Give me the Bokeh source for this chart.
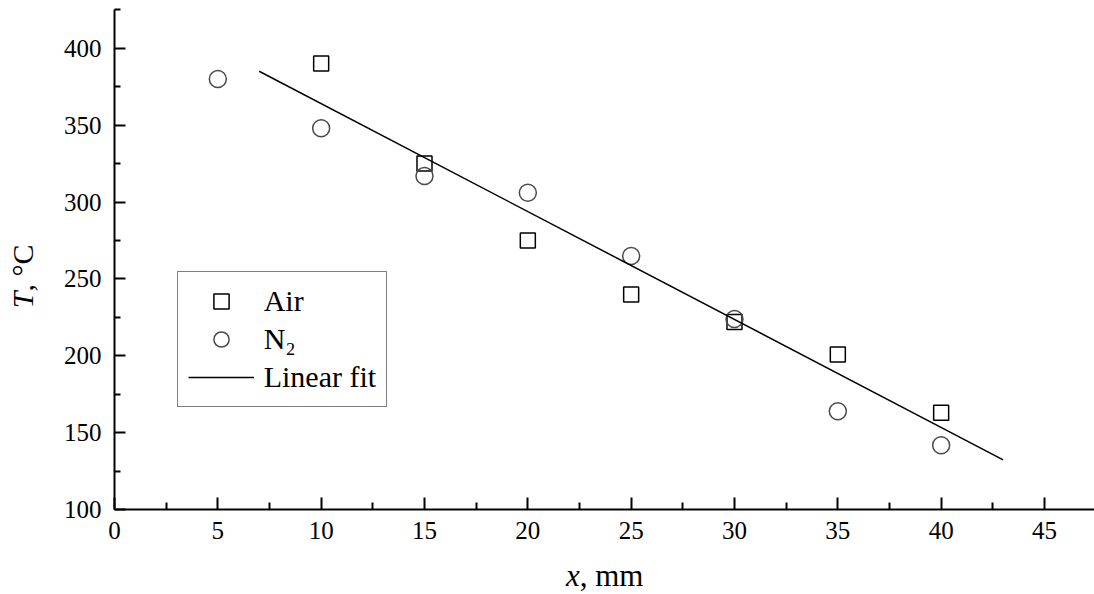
import math
from bokeh.plotting import figure
from bokeh.models import Range1d, FixedTicker, Label
from bokeh.embed import file_html
from bokeh.resources import INLINE

# ---- data ----
x_air = [10, 15, 20, 25, 30, 35, 40]
t_air = [390, 325, 275, 240, 222, 201, 163]
x_n2 = [5, 10, 15, 20, 25, 30, 35, 40]
t_n2 = [380, 348, 317, 306, 265, 224, 164, 142]
fit_x = [7, 43]
fit_t = [385, 132.5]

x_major = [0, 5, 10, 15, 20, 25, 30, 35, 40, 45]
x_minor = [2.5, 7.5, 12.5, 17.5, 22.5, 27.5, 32.5, 37.5, 42.5, 47.5]
y_major = [100, 150, 200, 250, 300, 350, 400]
y_minor = [125, 175, 225, 275, 325, 375, 425]

FONT = "Liberation Serif"

# frame covers the whole canvas; axes are drawn at fixed data locations
p = figure(width=1094, height=594, output_backend="svg", toolbar_location=None,
           x_range=Range1d(-5.516, 47.42), y_range=Range1d(44.95, 431.0),
           min_border=0)
p.outline_line_color = None
p.grid.visible = False
p.background_fill_color = "white"
p.border_fill_color = "white"

p.xaxis[0].fixed_location = 100
p.xaxis[0].bounds = (0, 47.5)
p.yaxis[0].fixed_location = 0
p.yaxis[0].bounds = (100, 425)

for ax, maj, mnr, tin, tmin in ((p.xaxis[0], x_major, x_minor, 12, 7), (p.yaxis[0], y_major, y_minor, 11, 6)):
    ax.ticker = FixedTicker(ticks=maj, minor_ticks=mnr)
    ax.axis_line_width = 2
    ax.axis_line_color = "black"
    ax.major_tick_in = tin
    ax.major_tick_out = 0
    ax.minor_tick_in = tmin
    ax.minor_tick_out = 0
    ax.major_tick_line_width = 2
    ax.minor_tick_line_width = 2
    ax.major_tick_line_color = "black"
    ax.minor_tick_line_color = "black"
    ax.major_label_text_font = FONT
    ax.major_label_text_font_size = "25px"
    ax.major_label_text_color = "black"
p.xaxis[0].major_label_standoff = 12
p.yaxis[0].major_label_standoff = 13

p.scatter(x_air, t_air, marker="square", size=15, fill_color=None,
          line_color="black", line_width=1.5, legend_label="Air")
p.scatter(x_n2, t_n2, marker="circle", size=17, fill_color=None,
          line_color="#4a4a4a", line_width=1.5, legend_label="N₂")
p.line(fit_x, fit_t, line_color="black", line_width=1.5, legend_label="Linear fit")

lg = p.legend[0]
lg.location = (176.7, 187.3)
lg.padding = 10
lg.spacing = 0
lg.margin = 0
lg.glyph_width = 66
lg.glyph_height = 38
lg.label_height = 38
lg.label_standoff = 10
lg.label_text_font = FONT
lg.label_text_font_size = "30px"
lg.label_text_color = "black"
lg.border_line_color = "black"
lg.border_line_width = 1.5
lg.background_fill_color = "white"
lg.background_fill_alpha = 1.0

# axis titles (italic symbol + upright unit)
XL_X, XL_Y = 22.51, 57.4
YL_X, YL_Y = -4.45, 241.9
p.add_layout(Label(x=XL_X, y=XL_Y, text="x", text_font=FONT, text_font_style="italic",
                   text_font_size="31px", text_color="black",
                   text_align="right", text_baseline="alphabetic"))
p.add_layout(Label(x=XL_X, y=XL_Y, text=", mm", text_font=FONT,
                   text_font_size="31px", text_color="black",
                   text_align="left", text_baseline="alphabetic"))
p.add_layout(Label(x=YL_X, y=YL_Y, text="T", text_font=FONT, text_font_style="italic",
                   text_font_size="30px", text_color="black",
                   text_align="right", text_baseline="alphabetic", angle=math.pi / 2))
p.add_layout(Label(x=YL_X, y=YL_Y, text=", °C", text_font=FONT,
                   text_font_size="30px", text_color="black",
                   text_align="left", text_baseline="alphabetic", angle=math.pi / 2))

open("out.html", "w").write(file_html(p, INLINE))
